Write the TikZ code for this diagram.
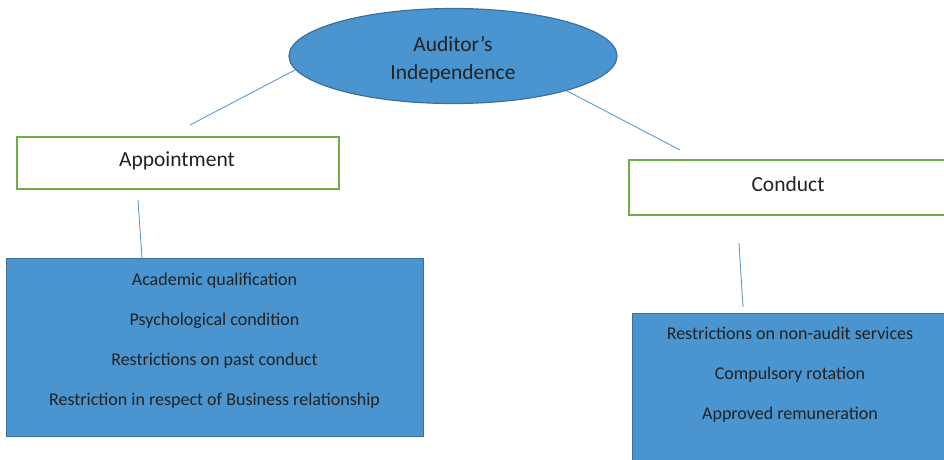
\documentclass[tikz,border=0pt]{standalone}
\usepackage{fontspec}
\setmainfont{Carlito}
\usetikzlibrary{shapes.geometric}
\definecolor{boxblue}{HTML}{4A95CF}
\definecolor{boxedge}{HTML}{3A6F9E}
\definecolor{leafgreen}{HTML}{70AD47}
\definecolor{linkblue}{HTML}{5B9BD5}
\definecolor{inkgray}{HTML}{222222}
\tikzset{
  rootnode/.style={ellipse, draw=boxedge, line width=1.2pt, fill=boxblue,
    minimum width=328pt, minimum height=95pt, inner sep=0pt},
  titletext/.style={align=center, text=inkgray, inner sep=0pt,
    font=\fontsize{21.5}{28}\selectfont},
  branchbox/.style={rectangle, draw=leafgreen, line width=1.6pt, fill=white,
    anchor=north west, inner sep=0pt},
  listbox/.style={rectangle, draw=boxedge, line width=1.2pt, fill=boxblue,
    anchor=north west, inner sep=0pt},
  listtext/.style={align=center, text=inkgray, inner sep=0pt,
    font=\fontsize{18}{40}\selectfont},
  link/.style={draw=linkblue, line width=0.9pt}
}
\begin{document}
\begin{tikzpicture}[x=1pt, y=-1pt]
  \useasboundingbox (0,0) rectangle (944,459);
  \clip (0,0) rectangle (944,459);

  % root
  \node[rootnode] (aud) at (453,56) {};
  \node[titletext] (audtitle) at (453,60) {Auditor’s\\Independence};

  % branches
  \node[branchbox, minimum width=322pt, minimum height=52pt] (app) at (16,136) {};
  \node[titletext] (apptitle) at (177,161) {Appointment};
  \node[branchbox, minimum width=320pt, minimum height=55pt] (con) at (628,159) {};
  \node[titletext] (contitle) at (788,184) {Conduct};

  % detail boxes
  \node[listbox, minimum width=417pt, minimum height=178pt] (applist) at (6,258) {};
  \node[listtext] (apptext) at (214.5,341)
    {Academic qualification\\Psychological condition\\Restrictions on past conduct\\Restriction in respect of Business relationship};
  \node[listbox, minimum width=316pt, minimum height=160pt] (conlist) at (632,313) {};
  \node[listtext] (context) at (790,375)
    {Restrictions on non-audit services\\Compulsory rotation\\Approved remuneration};

  % connector ends
  \coordinate (appTop) at (190,125);
  \coordinate (appFoot) at (138,200);
  \coordinate (conTop) at (680,150);
  \coordinate (conFoot) at (739,243);
  \coordinate (appListTop) at (142,258);
  \coordinate (conListTop) at (743,307);

  \draw[link] (aud.185) -- (appTop);
  \draw[link] (aud.343) -- (conTop);
  \draw[link] (appFoot) -- (appListTop);
  \draw[link] (conFoot) -- (conListTop);
\end{tikzpicture}
\end{document}
